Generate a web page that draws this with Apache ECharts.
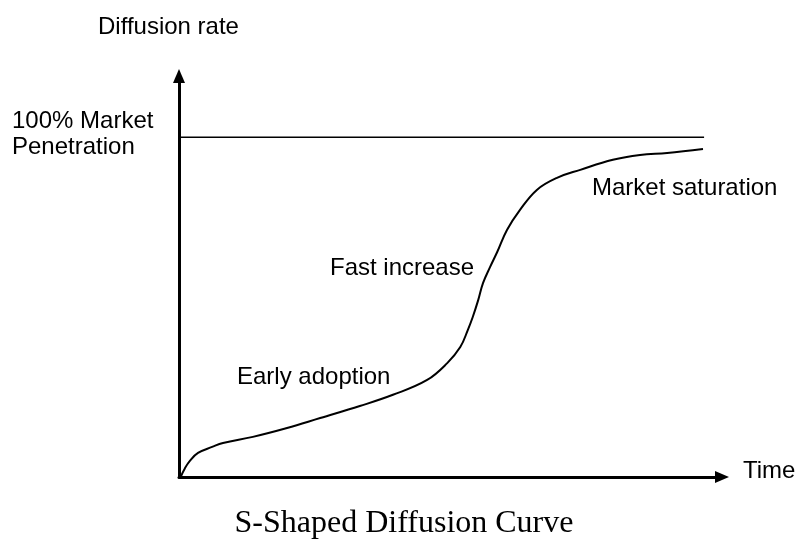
<!DOCTYPE html>
<html>
<head>
<meta charset="utf-8">
<script src="https://cdn.jsdelivr.net/npm/echarts@6/dist/echarts.min.js"></script>
<style>html,body{margin:0;padding:0;background:#fff}#c{width:795px;height:541px}</style>
</head>
<body>
<div id="c"></div>
<script>
// Curve: time (x, % of axis) vs diffusion rate (y, % of axis)
const curveTime = [0.3, 1.1, 2.0, 3.5, 6.1, 8.1, 13.6, 19.9, 26.0, 33.3, 39.4, 45.7, 49.4, 51.8, 53.2, 54.1, 55.1, 56.0, 57.3, 58.6, 60.4, 62.8, 65.9, 69.6, 73.9, 79.9, 84.9, 89.9, 96.5];
const curveRate = [0, 2.2, 4.0, 6.0, 7.5, 8.5, 10.0, 12.2, 14.7, 17.7, 20.5, 24.2, 28.4, 32.4, 36.7, 39.9, 44.1, 48.4, 52.4, 56.1, 61.6, 66.6, 71.6, 74.6, 76.6, 79.1, 80.3, 80.8, 81.8];
const saturationLevel = 84.7;
const saturationEnd = 96.7;
const annotations = [
  { text: 'Early adoption', x: 237, y: 377 },
  { text: 'Fast increase', x: 330, y: 268 },
  { text: 'Market saturation', x: 592, y: 188 }
];
const yAxisTitle = 'Diffusion rate';
const xAxisTitle = 'Time';
const levelLabel = ['100% Market', 'Penetration'];
const chartTitle = 'S-Shaped Diffusion Curve';

const chart = echarts.init(document.getElementById('c'), null, { renderer: 'canvas' });
const sans = '"Liberation Sans", Arial, sans-serif';
const txt = (t, x, y, extra) => ({
  type: 'text', x: x, y: y, silent: true,
  style: Object.assign({ text: t, font: '24px ' + sans, fill: '#000', align: 'left', verticalAlign: 'middle' }, extra || {})
});
const axisLine = { show: true, onZero: false, symbol: ['none', 'triangle'], symbolSize: [12, 14], lineStyle: { color: '#000', width: 3 } };
chart.setOption({
  animation: false,
  backgroundColor: '#fff',
  grid: { left: 179, right: 73, top: 76, bottom: 64, containLabel: false },
  xAxis: {
    type: 'value', min: 0, max: 100, axisLine: axisLine,
    axisTick: { show: false }, axisLabel: { show: false }, splitLine: { show: false }
  },
  yAxis: {
    type: 'value', min: 0, max: 100, axisLine: axisLine,
    axisTick: { show: false }, axisLabel: { show: false }, splitLine: { show: false }
  },
  series: [
    {
      type: 'line', name: 'level', data: [[0, saturationLevel], [saturationEnd, saturationLevel]],
      symbol: 'none', lineStyle: { color: '#000', width: 1.5 }, silent: true
    },
    {
      type: 'line', name: 'diffusion', data: curveTime.map((t, i) => [t, curveRate[i]]),
      symbol: 'none', smooth: 0.4, lineStyle: { color: '#000', width: 2 }, silent: true
    }
  ],
  graphic: [
    txt(yAxisTitle, 98, 27),
    txt(levelLabel[0], 12, 121),
    txt(levelLabel[1], 12, 147),
    txt(xAxisTitle, 743, 471),
    ...annotations.map(a => txt(a.text, a.x, a.y)),
    txt(chartTitle, 404, 524, { font: '32px "Liberation Serif", "Times New Roman", serif', align: 'center' })
  ]
});
</script>
</body>
</html>
